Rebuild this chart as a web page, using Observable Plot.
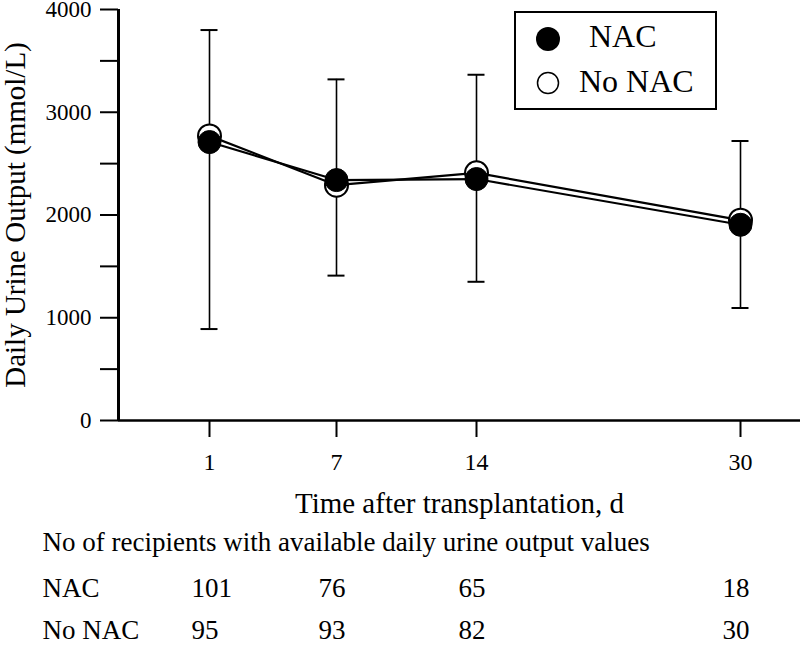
<!DOCTYPE html>
<html>
<head>
<meta charset="utf-8">
<script src="https://cdn.jsdelivr.net/npm/d3@7"></script>
<script src="https://cdn.jsdelivr.net/npm/@observablehq/plot@0.6"></script>
<style>
  html, body { margin: 0; padding: 0; background: white; }
  #wrap { position: relative; width: 800px; height: 651px; font-family: "Liberation Serif", "Times New Roman", serif; }
  #legend { position: absolute; left: 514px; top: 11px; }
</style>
</head>
<body>
<div id="wrap"></div>
<script>
// ---- data ----
const days = [1, 7, 14, 30];
const nacMean = [2710, 2340, 2350, 1905];
const noNacMean = [2770, 2290, 2410, 1950];
const errHigh = [3800, 3320, 3365, 2720];
const errLow = [890, 1410, 1350, 1095];
const nacCount = [101, 76, 65, 18];
const noNacCount = [95, 93, 82, 30];
const yTicks = [0, 1000, 2000, 3000, 4000];
const yMinorTicks = [500, 1500, 2500, 3500];
const seriesNames = ["NAC", "No NAC"];
const yTitle = "Daily Urine Output (mmol/L)";
const xTitle = "Time after transplantation, d";
const tableTitle = "No of recipients with available daily urine output values";

const rows = days.map((d, i) => ({
  day: d, nac: nacMean[i], no: noNacMean[i], hi: errHigh[i], lo: errLow[i],
  nN: nacCount[i], nNo: noNacCount[i]
}));

const font = "Liberation Serif";
const tableSize = 27;

const chart = Plot.plot({
  width: 800,
  height: 651,
  marginLeft: 118,
  marginRight: 0,
  marginTop: 9,
  marginBottom: 231,
  x: { type: "linear", domain: [0, 1, 7, 14, 30, 33], range: [118, 209, 336, 476, 740, 800] },
  y: { domain: [0, 4000] },
  style: "font-family: 'Liberation Serif', serif; color: black; background: white; overflow: visible;",
  marks: [
    Plot.axisY({ ticks: yTicks, tickSize: 18, tickPadding: 9, fontSize: 23, fontFamily: font, strokeWidth: 2, label: null, tickFormat: d => String(d) }),
    Plot.axisY({ ticks: yMinorTicks, tickSize: 18, tickFormat: () => "", strokeWidth: 2, label: null }),
    Plot.axisX({ ticks: days, tickSize: 17, tickPadding: 15, fontSize: 24, fontFamily: font, strokeWidth: 2, label: null, tickFormat: d => String(d) }),
    Plot.ruleX([0], { strokeWidth: 3 }),
    Plot.ruleY([0], { strokeWidth: 2.5 }),
    // error bars
    Plot.ruleX(rows, { x: "day", y1: "lo", y2: "hi", strokeWidth: 1.6 }),
    Plot.ruleY(rows, { x1: "day", x2: "day", y: "hi", insetLeft: -8.5, insetRight: -8.5, strokeWidth: 2 }),
    Plot.ruleY(rows, { x1: "day", x2: "day", y: "lo", insetLeft: -8.5, insetRight: -8.5, strokeWidth: 2 }),
    // lines
    Plot.line(rows, { x: "day", y: "no", stroke: "black", strokeWidth: 2.2 }),
    Plot.line(rows, { x: "day", y: "nac", stroke: "black", strokeWidth: 2.2 }),
    // markers
    Plot.dot(rows, { x: "day", y: "no", r: 11.5, fill: "white", stroke: "black", strokeWidth: 2 }),
    Plot.dot(rows, { x: "day", y: "nac", r: 11.5, fill: "black", stroke: "black", strokeWidth: 1 }),
    // axis titles
    Plot.text([yTitle], { text: d => d, frameAnchor: "left", rotate: -90, dx: -103, lineAnchor: "middle", textAnchor: "middle", fontSize: 29, fontFamily: font }),
    Plot.text([xTitle], { text: d => d, frameAnchor: "bottom", dy: 83, lineAnchor: "middle", textAnchor: "middle", fontSize: 29, fontFamily: font }),
    // table below
    Plot.text([tableTitle], { text: d => d, frameAnchor: "bottom-left", dx: -76, dy: 121.5, lineAnchor: "middle", textAnchor: "start", fontSize: tableSize, fontFamily: font }),
    Plot.text([seriesNames[0]], { text: d => d, frameAnchor: "bottom-left", dx: -76, dy: 167.5, lineAnchor: "middle", textAnchor: "start", fontSize: tableSize, fontFamily: font }),
    Plot.text([seriesNames[1]], { text: d => d, frameAnchor: "bottom-left", dx: -76, dy: 209.5, lineAnchor: "middle", textAnchor: "start", fontSize: tableSize, fontFamily: font }),
    Plot.text(rows, { x: "day", text: "nN", frameAnchor: "bottom", dx: -18, dy: 167.5, lineAnchor: "middle", textAnchor: "start", fontSize: tableSize, fontFamily: font }),
    Plot.text(rows, { x: "day", text: "nNo", frameAnchor: "bottom", dx: -18, dy: 209.5, lineAnchor: "middle", textAnchor: "start", fontSize: tableSize, fontFamily: font })
  ]
});

d3.select(chart).selectAll("text, g").style("font-family", "'Liberation Serif', serif", "important");

const wrap = document.getElementById("wrap");
wrap.appendChild(chart);

// legend (inside the plot area, top right)
const legend = document.createElementNS("http://www.w3.org/2000/svg", "svg");
legend.setAttribute("id", "legend");
legend.setAttribute("width", 203);
legend.setAttribute("height", 99);
legend.innerHTML = `
  <rect x="1" y="1" width="201" height="97" fill="white" stroke="black" stroke-width="2"/>
  <circle cx="34" cy="28" r="12" fill="black"/>
  <text x="75" y="36" font-size="32" fill="black">${seriesNames[0]}</text>
  <circle cx="34" cy="72" r="10.5" fill="white" stroke="black" stroke-width="1.5"/>
  <text x="65" y="81" font-size="32" fill="black">${seriesNames[1]}</text>
`;
wrap.appendChild(legend);
</script>
</body>
</html>
